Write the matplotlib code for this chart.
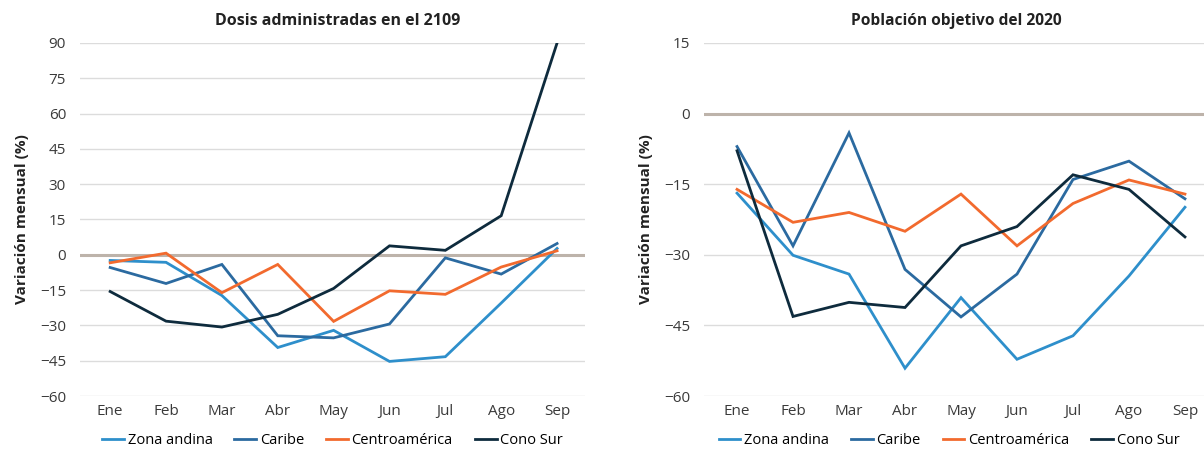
import matplotlib.pyplot as plt

plt.rcParams['font.family'] = ['Open Sans', 'DejaVu Sans']

meses = ['Ene', 'Feb', 'Mar', 'Abr', 'May', 'Jun', 'Jul', 'Ago', 'Sep']
regiones = ['Zona andina', 'Caribe', 'Centroamérica', 'Cono Sur']
colores = ['#2E8FCB', '#2B6AA0', '#F26A2E', '#0E2B3D']

# Dosis administradas en el 2109
dosis_andina = [-2.4, -3.2, -17.3, -39.4, -32.1, -45.3, -43.3, -20.5, 2.7]
dosis_caribe = [-5.4, -12.2, -4.1, -34.4, -35.3, -29.4, -1.3, -8.2, 4.8]
dosis_centro = [-3.4, 0.7, -16.1, -4.1, -28.3, -15.3, -16.8, -5.2, 1.7]
dosis_cono = [-15.6, -28.2, -30.7, -25.3, -14.3, 3.8, 1.9, 16.6, 90.0]

# Poblacion objetivo del 2020
pob_andina = [-16.9, -30.1, -34.1, -54.1, -39.1, -52.2, -47.2, -34.5, -19.9]
pob_caribe = [-7.0, -28.1, -4.1, -33.1, -43.2, -34.1, -14.0, -10.1, -18.1]
pob_centro = [-16.1, -23.1, -21.0, -25.0, -17.1, -28.1, -19.1, -14.1, -17.1]
pob_cono = [-7.9, -43.1, -40.1, -41.2, -28.1, -24.0, -13.0, -16.1, -26.2]

fig = plt.figure(figsize=(12.04, 4.51), dpi=100)
ax1 = fig.add_axes([80 / 1204, 55 / 451, 505 / 1204, 353 / 451])
ax2 = fig.add_axes([704 / 1204, 55 / 451, 500 / 1204, 353 / 451])

paneles = [
    (ax1, 'Dosis administradas en el 2109',
     [dosis_andina, dosis_caribe, dosis_centro, dosis_cono],
     range(-60, 91, 15), (-0.54, 8.5), 0.51, 11.5, 0.5),
    (ax2, 'Población objetivo del 2020',
     [pob_andina, pob_caribe, pob_centro, pob_cono],
     range(-60, 16, 15), (-0.59, 8.34), 0.504, 11.2, 0.49),
]

for ax, titulo, series, yt, xl, tx, tfs, lx in paneles:
    x = range(len(meses))
    for serie, nombre, c in zip(series, regiones, colores):
        ax.plot(x, serie, color=c, linewidth=2.0, label=nombre,
                solid_joinstyle='miter', zorder=3)
    ax.axhline(0, color='#BDB3AA', linewidth=2.2, zorder=2)
    ax.set_yticks(list(yt))
    ax.set_ylim(-60, yt[-1])
    ax.set_xticks(list(x))
    ax.set_xticklabels(meses)
    ax.set_xlim(*xl)
    ax.grid(axis='y', color='#DCDCDC', linewidth=1.0, zorder=1)
    ax.set_axisbelow(True)
    for s in ax.spines.values():
        s.set_visible(False)
    ax.tick_params(length=0, labelsize=11, colors='#3A3A3A')
    ax.tick_params(axis='y', pad=10)
    ax.tick_params(axis='x', pad=6)
    ax.set_title(titulo, fontsize=tfs, fontweight='bold', x=tx, pad=13,
                 color='#222222')
    ax.set_ylabel('Variación mensual (%)', fontsize=11, fontweight='bold',
                  color='#222222', labelpad=8)
    ax.legend(loc='center', bbox_to_anchor=(lx, -0.127), ncol=4,
              frameon=False, fontsize=10.5, handlelength=1.5,
              handletextpad=0.25, columnspacing=1.5)

fig.savefig('out.png', dpi=100)
